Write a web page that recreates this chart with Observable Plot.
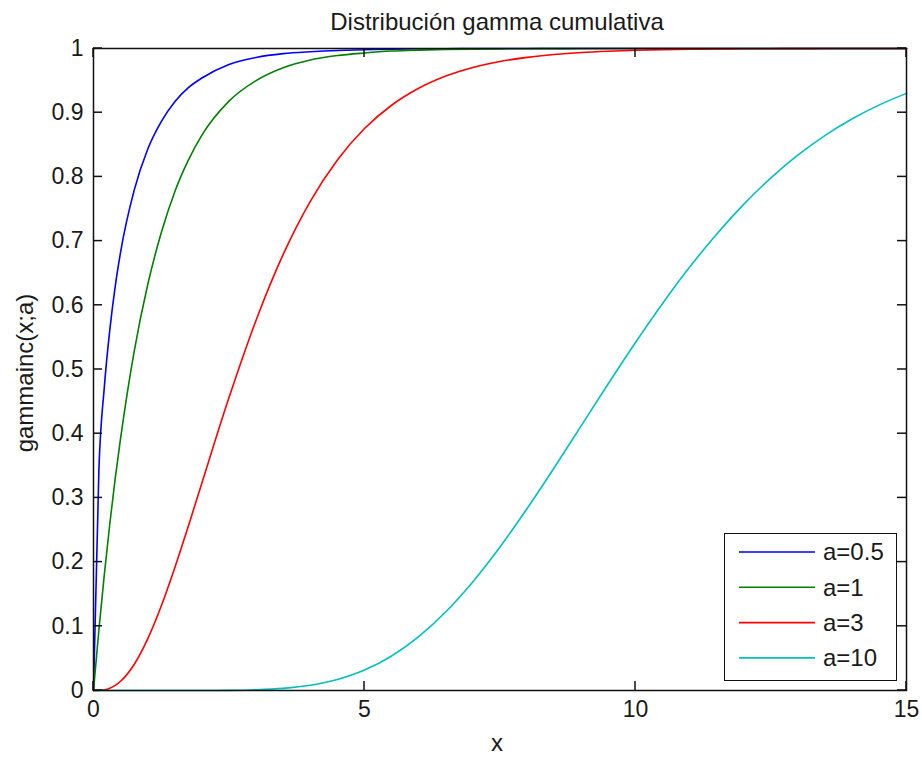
<!DOCTYPE html>
<html><head><meta charset="utf-8">
<script src="https://cdn.jsdelivr.net/npm/d3@7"></script>
<script src="https://cdn.jsdelivr.net/npm/@observablehq/plot@0.6"></script>
<style>
body{margin:0;background:#fff;font-family:"Liberation Sans",Arial,sans-serif;color:#1a1a1a;}
#wrap{position:relative;width:922px;height:757px;overflow:hidden;}
.lbl{position:absolute;font-size:24px;white-space:nowrap;transform:translate(-50%,-50%);}
#chart{position:absolute;left:0;top:40px;}
#legend{position:absolute;left:724px;top:533px;width:171px;height:146px;border:1.5px solid #111;background:#fff;}
</style></head>
<body>
<div id="wrap">
  <div class="lbl" style="left:497px;top:22px;">Distribución gamma cumulativa</div>
  <div id="chart"></div>
  <div class="lbl" style="left:497px;top:743px;">x</div>
  <div class="lbl" style="left:25px;top:373px;transform:translate(-50%,-50%) rotate(-90deg);">gammainc(x;a)</div>
  <div id="legend"></div>
</div>
<script>
const xs = [0,0.1,0.2,0.3,0.4,0.5,0.75,1,1.25,1.5,1.75,2,2.5,3,3.5,4,4.5,5,5.5,6,6.5,7,7.5,8,8.5,9,9.5,10,10.5,11,11.5,12,12.5,13,13.5,14,14.5,15];
const a05 = [0,0.345,0.473,0.561,0.629,0.683,0.779,0.843,0.886,0.917,0.939,0.954,0.975,0.986,0.992,0.995,0.997,0.998,0.999,0.9995,0.9997,0.9998,0.9999,1,1,1,1,1,1,1,1,1,1,1,1,1,1,1];
const a1 = [0,0.095,0.181,0.259,0.330,0.393,0.528,0.632,0.713,0.777,0.826,0.865,0.918,0.950,0.970,0.982,0.989,0.993,0.996,0.9975,0.9985,0.9991,0.9994,0.9997,0.9998,0.9999,0.9999,1,1,1,1,1,1,1,1,1,1,1];
const a3 = [0,0.0002,0.0011,0.0036,0.0079,0.0144,0.0405,0.0803,0.1315,0.1912,0.2560,0.3233,0.4562,0.5768,0.6792,0.7619,0.8264,0.8753,0.9116,0.9380,0.9570,0.9704,0.9797,0.9862,0.9907,0.9938,0.9958,0.9972,0.9982,0.9988,0.9992,0.9995,0.9997,0.9998,0.9999,0.9999,0.9999,1];
const a10 = [0,0,0,0,0,0,0,0,0,0,0,0.00005,0.0002,0.0011,0.0033,0.0081,0.0171,0.0318,0.0538,0.0839,0.1226,0.1695,0.2236,0.2834,0.3470,0.4126,0.4782,0.5421,0.6029,0.6595,0.7111,0.7576,0.7986,0.8342,0.8648,0.8906,0.9122,0.9301];
const seriesNames = ["a=0.5","a=1","a=3","a=10"];
const seriesColors = ["#0000ff","#008000","#ff0000","#00bfbf"];
const xTicks = [0,5,10,15];
const xTickLabels = ["0","5","10","15"];
const yTicks = [0,0.1,0.2,0.3,0.4,0.5,0.6,0.7,0.8,0.9,1];
const yTickLabels = ["0","0.1","0.2","0.3","0.4","0.5","0.6","0.7","0.8","0.9","1"];

const allSeries = [a05,a1,a3,a10];
const data = allSeries.flatMap((vals,si) => xs.map((x,i) => ({x, y: vals[i], s: seriesNames[si]})));

const W = 922, H = 717, ML = 93, MR = 16, MT = 8, MB = 67;
const innerW = W - ML - MR, innerH = H - MT - MB, T = 9;
const xMin = 0, xMax = 15, yMin = 0, yMax = 1;

const chart = Plot.plot({
  width: W, height: H, marginLeft: ML, marginRight: MR, marginTop: MT, marginBottom: MB,
  style: {fontFamily: "'Liberation Sans', Arial, sans-serif", fontSize: "23px", color: "#1a1a1a", background: "white", overflow: "visible"},
  x: {domain: [xMin, xMax], label: null},
  y: {domain: [yMin, yMax], label: null},
  color: {domain: seriesNames, range: seriesColors},
  marks: [
    Plot.line(data, {x: "x", y: "y", stroke: "s", strokeWidth: 1.6, curve: "monotone-x"}),
    Plot.frame({stroke: "#111", strokeWidth: 1.5}),
    Plot.axisX(xTicks, {anchor: "bottom", tickSize: 0, tickPadding: 10, label: null, tickFormat: (d,i) => xTickLabels[i]}),
    Plot.axisY(yTicks, {anchor: "left", tickSize: 0, tickPadding: 10, label: null, tickFormat: (d,i) => yTickLabels[i]})
  ]
});
document.getElementById("chart").appendChild(chart);

// inward ticks on all four sides, positioned with the chart's own scales
const sx = chart.scale("x"), sy = chart.scale("y");
const svg = d3.select(chart);
const g = svg.append("g").attr("stroke", "#111").attr("stroke-width", 1.5);
yTicks.forEach(v => {
  const py = sy.apply(v), L = sx.apply(xMin), R = sx.apply(xMax);
  g.append("line").attr("x1", L).attr("x2", L + T).attr("y1", py).attr("y2", py);
  g.append("line").attr("x1", R - T).attr("x2", R).attr("y1", py).attr("y2", py);
});
xTicks.forEach(v => {
  const px = sx.apply(v), B = sy.apply(yMin), Tp = sy.apply(yMax);
  g.append("line").attr("x1", px).attr("x2", px).attr("y1", B).attr("y2", B - T);
  g.append("line").attr("x1", px).attr("x2", px).attr("y1", Tp).attr("y2", Tp + T);
});

// legend
const leg = d3.select("#legend");
const lsvg = leg.append("svg").attr("width", 171).attr("height", 146)
  .style("font-family", "'Liberation Sans', Arial, sans-serif").style("font-size", "24px");
seriesNames.forEach((n,i) => {
  const y = 18 + i*35.3;
  lsvg.append("line").attr("x1", 14).attr("x2", 90).attr("y1", y).attr("y2", y)
    .attr("stroke", seriesColors[i]).attr("stroke-width", 1.6);
  lsvg.append("text").attr("x", 98).attr("y", y).attr("dy", "0.35em").attr("fill", "#1a1a1a").text(n);
});
</script>
</body></html>
